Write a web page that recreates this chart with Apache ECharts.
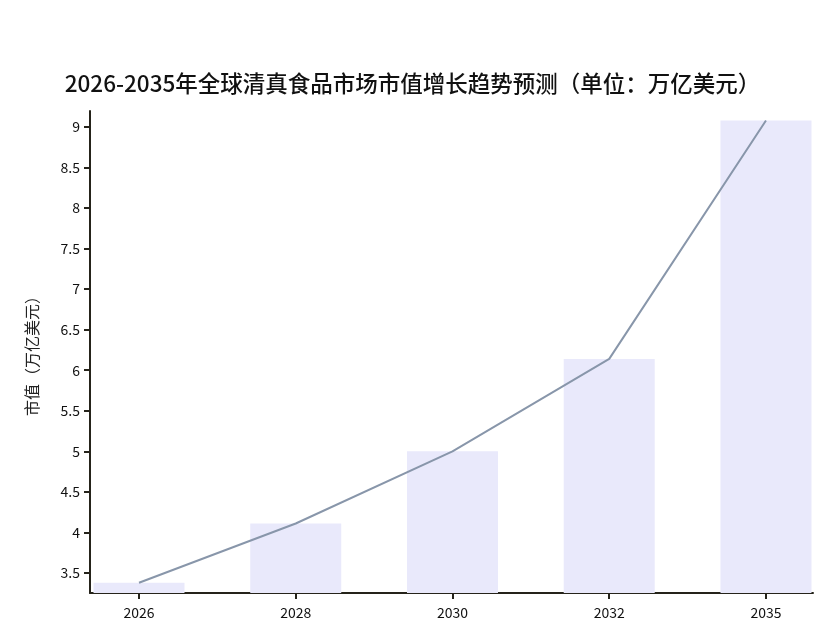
<!DOCTYPE html>
<html>
<head>
<meta charset="utf-8">
<script src="https://cdn.jsdelivr.net/npm/echarts@6/dist/echarts.min.js"></script>
<style>html,body{margin:0;padding:0;background:#fff;}#c{width:825px;height:633px;}</style>
</head>
<body>
<div id="c"></div>
<script>
var titleText = '2026-2035年全球清真食品市场市值增长趋势预测（单位：万亿美元）';
var yAxisName = '市值（万亿美元）';
var categories = ['2026', '2028', '2030', '2032', '2035'];
var marketValues = [3.38, 4.11, 5.0, 6.14, 9.08];
var yTicks = [3.5, 4, 4.5, 5, 5.5, 6, 6.5, 7, 7.5, 8, 8.5, 9];
var xTicks = [0, 1, 2, 3, 4];

var pts = marketValues.map(function (v, i) { return [i, v]; });
var font = '"Noto Sans CJK SC", "Noto Sans", sans-serif';
var chart = echarts.init(document.getElementById('c'), null, {renderer: 'canvas'});
chart.setOption({
  animation: false,
  backgroundColor: '#ffffff',
  title: {
    text: titleText, left: 'center', top: 67,
    textStyle: {fontFamily: font, fontSize: 22.5, fontWeight: 500, color: '#111'}
  },
  grid: {left: 90, right: 12, top: 111, bottom: 40, containLabel: false},
  xAxis: {
    type: 'value', min: -0.3126, max: 4.30,
    splitLine: {show: false},
    axisLine: {show: true, onZero: false, lineStyle: {color: '#25231a', width: 2}},
    axisTick: {show: true, customValues: xTicks, length: 6, lineStyle: {color: '#25231a', width: 2}},
    axisLabel: {customValues: xTicks, formatter: function (v) { return categories[Math.round(v)]; },
      fontFamily: font, fontSize: 14, color: '#111', margin: 13}
  },
  yAxis: {
    type: 'value', min: 3.253, max: 9.197,
    name: yAxisName, nameLocation: 'middle', nameGap: 50, nameRotate: 90,
    nameTextStyle: {fontFamily: font, fontSize: 16, color: '#222'},
    splitLine: {show: false},
    axisLine: {show: true, onZero: false, lineStyle: {color: '#25231a', width: 2}},
    axisTick: {show: true, customValues: yTicks, length: 6, lineStyle: {color: '#25231a', width: 2}},
    axisLabel: {customValues: yTicks, formatter: function (v) { return String(v); },
      fontFamily: font, fontSize: 14, color: '#111', margin: 10}
  },
  series: [
    {type: 'bar', data: pts, barWidth: 91, clip: true,
     itemStyle: {color: '#e9e9fb'}, z: 1},
    {type: 'line', data: pts, symbol: 'none', clip: true,
     lineStyle: {color: '#8896aa', width: 2}, z: 3}
  ]
});
</script>
</body>
</html>
